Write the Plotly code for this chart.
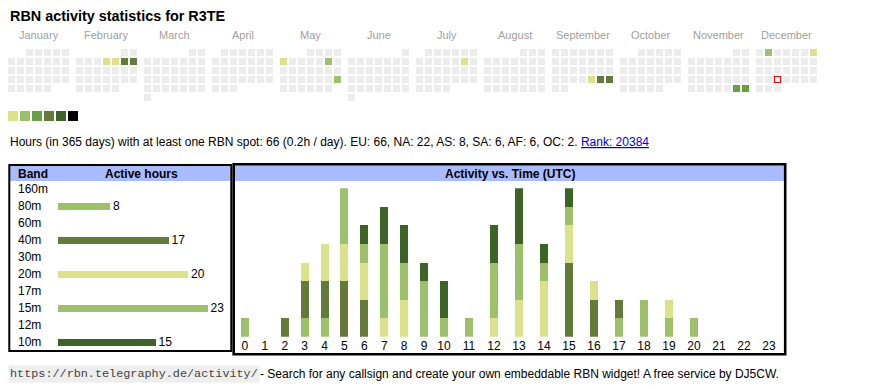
import datetime as dt
import plotly.graph_objects as go

W, H = 870, 390
OFF = 8  # page body margin of the html page
FONT = "Arial, 'Liberation Sans', sans-serif"
MONO = "'Liberation Mono', 'Courier New', monospace"

# ---------------- data ----------------
CALLSIGN = "R3TE"
YEAR = 2025
MONTH_NAMES = ["January", "February", "March", "April", "May", "June", "July",
               "August", "September", "October", "November", "December"]
ACTIVE_DAYS = ["2025-02-06", "2025-02-07", "2025-02-08", "2025-02-09",
               "2025-05-05", "2025-05-10", "2025-05-25", "2025-07-12",
               "2025-09-26", "2025-09-27", "2025-09-28", "2025-11-29",
               "2025-11-30", "2025-12-02", "2025-12-07"]
ACTIVE_LEVELS = [1, 1, 4, 4, 1, 2, 2, 1, 1, 4, 4, 3, 3, 2, 1]
TODAY = "2025-12-24"
LEVEL_COLORS = ["#dbe28b", "#9dc06a", "#68a046", "#647a3a", "#3c6426", "#000000"]
EMPTY_COLOR = "#ececec"

TOTAL_HOURS = 66
PERIOD_DAYS = 365
CONTINENTS = ["EU", "NA", "AS", "SA", "AF", "OC"]
CONTINENT_HOURS = [66, 22, 8, 6, 6, 2]
RANK = 20384

BANDS = ["160m", "80m", "60m", "40m", "30m", "20m", "17m", "15m", "12m", "10m"]
BAND_HOURS = [0, 8, 0, 17, 0, 20, 0, 23, 0, 15]
BAND_COLORS = ["#9dc06a", "#9dc06a", "#9dc06a", "#647a3a", "#9dc06a",
               "#dbe28b", "#9dc06a", "#9dc06a", "#9dc06a", "#3c6426"]

HOURS = [str(h) for h in range(24)]
ACT_80M = [1, 0, 0, 1, 1, 0, 0, 0, 0, 0, 0, 0, 0, 0, 0, 0, 0, 1, 2, 1, 1, 0, 0, 0]
ACT_40M = [0, 0, 1, 2, 2, 3, 2, 0, 0, 0, 0, 0, 0, 0, 0, 4, 2, 1, 0, 0, 0, 0, 0, 0]
ACT_20M = [0, 0, 0, 1, 2, 2, 2, 1, 2, 0, 0, 0, 1, 2, 3, 2, 1, 0, 0, 1, 0, 0, 0, 0]
ACT_15M = [0, 0, 0, 0, 0, 3, 1, 4, 2, 3, 1, 1, 3, 3, 1, 1, 0, 0, 0, 0, 0, 0, 0, 0]
ACT_10M = [0, 0, 0, 0, 0, 0, 1, 2, 2, 1, 2, 0, 2, 3, 1, 1, 0, 0, 0, 0, 0, 0, 0, 0]
ACT_BANDS = ["80m", "40m", "20m", "15m", "10m"]
ACT_SERIES = [ACT_80M, ACT_40M, ACT_20M, ACT_15M, ACT_10M]

# ---------------- layout helpers (window pixel -> paper fraction) ----------------
def fx(px):
    return (px - OFF) / W


def fy(py):
    return 1 - (py - OFF) / H


CAL_LEFT, CAL_TOP = 8, 49
MONTH_STEP, CELL_STEP, CELL = 68, 9, 7


def cell_pos(d):
    off = d.replace(day=1).weekday()
    idx = off + d.day - 1
    row, col = divmod(idx, 7)
    x = CAL_LEFT + MONTH_STEP * (d.month - 1) + CELL_STEP * col + CELL / 2
    y = CAL_TOP + CELL_STEP * row + CELL / 2
    return x, y


fig = go.Figure()

# ---------------- calendar ----------------
active = {dt.date.fromisoformat(s): lv for s, lv in zip(ACTIVE_DAYS, ACTIVE_LEVELS)}
today = dt.date.fromisoformat(TODAY)
ex, ey, ax_, ay_, ac = [], [], [], [], []
d = dt.date(YEAR, 1, 1)
while d.year == YEAR:
    x, y = cell_pos(d)
    if d in active:
        ax_.append(x); ay_.append(y); ac.append(LEVEL_COLORS[active[d] - 1])
    elif d != today:
        ex.append(x); ey.append(y)
    d += dt.timedelta(days=1)

fig.add_trace(go.Scatter(x=ex, y=ey, mode="markers", xaxis="x", yaxis="y",
                         marker=dict(symbol="square", size=CELL, color=EMPTY_COLOR, line=dict(width=0)),
                         hoverinfo="skip", showlegend=False))
fig.add_trace(go.Scatter(x=ax_, y=ay_, mode="markers", xaxis="x", yaxis="y",
                         marker=dict(symbol="square", size=CELL, color=ac, line=dict(width=0)),
                         hoverinfo="skip", showlegend=False))
tx, ty = cell_pos(today)
fig.add_trace(go.Scatter(x=[tx], y=[ty], mode="markers", xaxis="x", yaxis="y",
                         marker=dict(symbol="square", size=CELL - 1, color="#ffffff",
                                     line=dict(width=1.2, color="#ff0000")),
                         hoverinfo="skip", showlegend=False))
# colour scale legend
fig.add_trace(go.Scatter(x=[8 + 12 * k + 5 for k in range(len(LEVEL_COLORS))],
                         y=[116] * len(LEVEL_COLORS), mode="markers", xaxis="x", yaxis="y",
                         marker=dict(symbol="square", size=10, color=LEVEL_COLORS, line=dict(width=0)),
                         hoverinfo="skip", showlegend=False))

annotations = []
for m, name in enumerate(MONTH_NAMES):
    annotations.append(dict(x=CAL_LEFT + MONTH_STEP * m + (7 * CELL_STEP - 2) / 2, y=35,
                            xref="x", yref="y", text=name, showarrow=False,
                            xanchor="center", yanchor="middle",
                            font=dict(family=FONT, size=11, color="#a0a0a0")))
annotations.append(dict(x=8, y=16, xref="x", yref="y", text="<b>RBN activity statistics for %s</b>" % CALLSIGN,
                        showarrow=False, xanchor="left", yanchor="middle",
                        font=dict(family=FONT, size=14.4, color="#000000")))
cont = ", ".join("%s: %d" % (c, v) for c, v in zip(CONTINENTS, CONTINENT_HOURS))
stats = ("Hours (in %d days) with at least one RBN spot: %d (%.1fh / day). %s. "
         % (PERIOD_DAYS, TOTAL_HOURS, TOTAL_HOURS / PERIOD_DAYS, cont))
stats += "<span style='color:#0000ee'><u>Rank: %d</u></span>" % RANK
annotations.append(dict(x=8, y=142, xref="x", yref="y", text=stats, showarrow=False,
                        xanchor="left", yanchor="middle",
                        font=dict(family=FONT, size=12, color="#000000")))

# ---------------- band table ----------------
PX_PER_HOUR = 6.5
BAR_X0, BAR_X1 = 58, 228
fig.add_trace(go.Bar(y=BANDS, x=BAND_HOURS, orientation="h", xaxis="x2", yaxis="y2",
                     width=0.4, marker=dict(color=BAND_COLORS, line=dict(width=0)),
                     text=[str(v) if v else "" for v in BAND_HOURS], textposition="outside",
                     textfont=dict(family=FONT, size=12, color="#000000"),
                     constraintext="none", cliponaxis=False,
                     hoverinfo="skip", showlegend=False))
for b in BANDS:
    annotations.append(dict(x=16, y=b, xref="x", yref="y2", text=b, showarrow=False,
                            xanchor="left", yanchor="middle",
                            font=dict(family=FONT, size=12, color="#000000")))
annotations.append(dict(x=16, y=173.5, xref="x", yref="y", text="<b>Band</b>", showarrow=False,
                        xanchor="left", yanchor="middle", font=dict(family=FONT, size=12, color="#000000")))
annotations.append(dict(x=141.5, y=173.5, xref="x", yref="y", text="<b>Active hours</b>", showarrow=False,
                        xanchor="center", yanchor="middle", font=dict(family=FONT, size=12, color="#000000")))

# ---------------- activity vs time ----------------
for band, series in zip(ACT_BANDS, ACT_SERIES):
    col = BAND_COLORS[BANDS.index(band)]
    fig.add_trace(go.Bar(x=HOURS[:10], y=series[:10], xaxis="x3", yaxis="y3", width=0.4,
                         marker=dict(color=col, line=dict(width=0)), hoverinfo="skip", showlegend=False))
    fig.add_trace(go.Bar(x=HOURS[10:], y=series[10:], xaxis="x4", yaxis="y3", width=0.32,
                         marker=dict(color=col, line=dict(width=0)), hoverinfo="skip", showlegend=False))
annotations.append(dict(x=509.5, y=173.5, xref="x", yref="y", text="<b>Activity vs. Time (UTC)</b>",
                        showarrow=False, xanchor="center", yanchor="middle",
                        font=dict(family=FONT, size=12, color="#000000")))

# ---------------- footer ----------------
annotations.append(dict(x=8, y=374, xref="x", yref="y", text="https://rbn.telegraphy.de/activity/",
                        showarrow=False, xanchor="left", yanchor="middle", bgcolor="#eeeeee", borderpad=1,
                        font=dict(family=MONO, size=11.8, color="#444444")))
annotations.append(dict(x=258, y=374, xref="x", yref="y",
                        text="- Search for any callsign and create your own embeddable RBN widget! A free service by DJ5CW.",
                        showarrow=False, xanchor="left", yanchor="middle",
                        font=dict(family=FONT, size=12, color="#000000")))

# ---------------- shapes ----------------
shapes = [
    dict(type="rect", xref="x", yref="y", x0=10, x1=230.5, y0=166, y1=181, fillcolor="#aabbff",
         line=dict(width=0), layer="below"),
    dict(type="rect", xref="x", yref="y", x0=234.5, x1=784.5, y0=165.3, y1=181, fillcolor="#aabbff",
         line=dict(width=0), layer="below"),
    dict(type="rect", xref="x", yref="y", x0=9.3, x1=231.3, y0=165, y1=351,
         line=dict(width=2, color="#000000"), layer="above"),
    dict(type="rect", xref="x", yref="y", x0=233.7, x1=785.2, y0=164.3, y1=354.3,
         line=dict(width=2.6, color="#000000"), layer="above"),
]

hidden = dict(visible=False, fixedrange=True)
fig.update_layout(
    width=W, height=H, margin=dict(l=0, r=0, t=0, b=0),
    paper_bgcolor="#ffffff", plot_bgcolor="rgba(0,0,0,0)",
    barmode="stack", bargap=0, showlegend=False,
    font=dict(family=FONT, color="#000000"),
    xaxis=dict(domain=[0, 1], range=[OFF, OFF + W], **hidden),
    yaxis=dict(domain=[0, 1], range=[OFF + H, OFF], **hidden),
    xaxis2=dict(domain=[fx(BAR_X0), fx(BAR_X1)], range=[0, (BAR_X1 - BAR_X0) / PX_PER_HOUR],
                anchor="y2", **hidden),
    yaxis2=dict(domain=[fy(350.8), fy(180.8)], type="category", categoryarray=BANDS,
                categoryorder="array", range=[len(BANDS) - 0.5, -0.5], anchor="x2", **hidden),
    xaxis3=dict(domain=[fx(235), fx(434)], type="category", categoryorder="array",
                categoryarray=HOURS[:10], range=[-0.5, 9.5], anchor="y3",
                showgrid=False, zeroline=False, showline=False, ticks="",
                tickfont=dict(family=FONT, size=12, color="#000000"), fixedrange=True),
    xaxis4=dict(domain=[fx(431.5), fx(781.5)], type="category", categoryorder="array",
                categoryarray=HOURS[10:], range=[-0.5, 13.5], anchor="y3",
                showgrid=False, zeroline=False, showline=False, ticks="",
                tickfont=dict(family=FONT, size=12, color="#000000"), fixedrange=True),
    yaxis3=dict(domain=[fy(336.7), fy(188.3)], range=[0, 8], anchor="x3", **hidden),
    annotations=annotations, shapes=shapes,
)

fig.write_html("out.html", config={"displayModeBar": False, "staticPlot": True})
